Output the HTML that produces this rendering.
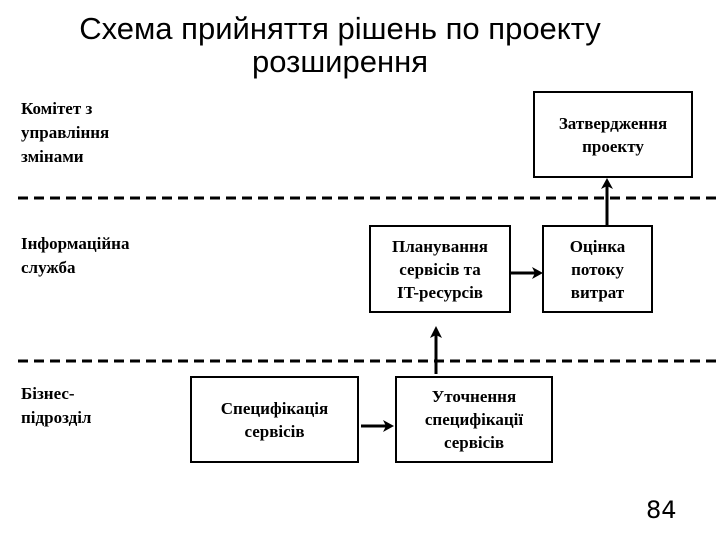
<!DOCTYPE html>
<html><head><meta charset="utf-8"><style>
body{margin:0;width:720px;height:540px;background:#fff;position:relative;overflow:hidden}
.t{position:absolute;font-family:"Liberation Sans",sans-serif;font-size:31px;color:#000;text-align:center;line-height:33px}
.l{position:absolute;font-family:"Liberation Serif",serif;font-weight:bold;font-size:17px;line-height:24px;color:#000}
.b{position:absolute;border:2.5px solid #000;box-sizing:border-box;display:flex;align-items:center;justify-content:center;text-align:center;font-family:"Liberation Serif",serif;font-weight:bold;font-size:17px;line-height:23px}
</style></head><body>
<div class="t" style="left:40px;top:12px;width:600px">Схема прийняття рішень по проекту<br>розширення</div>
<div class="l" style="left:21px;top:97px">Комітет з<br>управління<br>змінами</div>
<div class="l" style="left:21px;top:232px">Інформаційна<br>служба</div>
<div class="l" style="left:21px;top:382px">Бізнес-<br>підрозділ</div>
<div class="b" style="left:533px;top:91px;width:160px;height:87px">Затвердження<br>проекту</div>
<div class="b" style="left:369px;top:225px;width:142px;height:88px">Планування<br>сервісів та<br>IT-ресурсів</div>
<div class="b" style="left:542px;top:225px;width:111px;height:88px">Оцінка<br>потоку<br>витрат</div>
<div class="b" style="left:395px;top:376px;width:158px;height:87px">Уточнення<br>специфікації<br>сервісів</div>
<div class="b" style="left:190px;top:376px;width:169px;height:87px">Специфікація<br>сервісів</div>
<svg width="720" height="540" style="position:absolute;left:0;top:0">
<g stroke="#000" stroke-width="3" stroke-dasharray="10,6" fill="none">
<line x1="18" y1="198" x2="720" y2="198"/><line x1="18" y1="361" x2="720" y2="361"/></g>
<g stroke="#000" stroke-width="3" fill="none">
<line x1="607" y1="225" x2="607" y2="182"/><line x1="511" y1="273" x2="538" y2="273"/>
<line x1="436" y1="374" x2="436" y2="331"/><line x1="361" y1="426" x2="389" y2="426"/></g>
<g fill="#000">
<polygon points="607,178 601,189 607,186 613,189"/>
<polygon points="543,273 532,267 535,273 532,279"/>
<polygon points="436,326 430,338 436,335 442,338"/>
<polygon points="394,426 383,420 386,426 383,432"/></g>
</svg>
<div style="position:absolute;left:646px;top:496px;font-family:'DejaVu Sans',sans-serif;font-size:24px">84</div>
</body></html>
